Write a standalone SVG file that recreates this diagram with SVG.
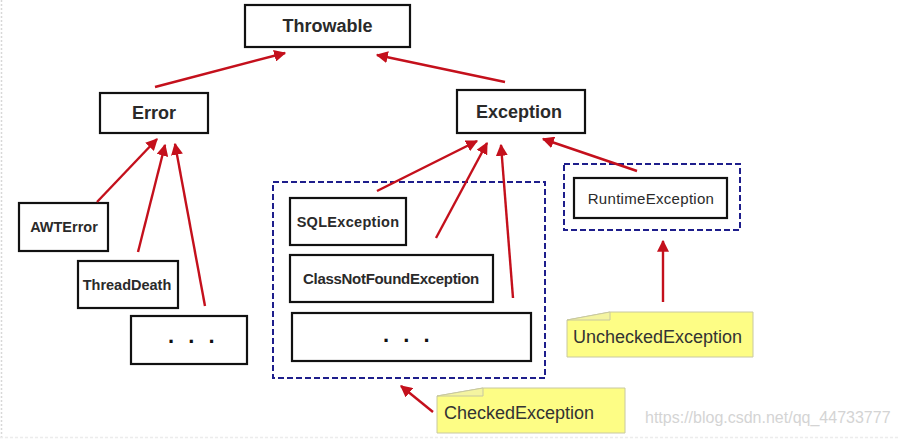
<svg xmlns="http://www.w3.org/2000/svg" width="898" height="442" viewBox="0 0 898 442">
<defs>
<marker id="ah" viewBox="0 0 10 10" refX="9" refY="5" markerWidth="5" markerHeight="5" orient="auto" markerUnits="strokeWidth">
<path d="M0,0 L10,5 L0,10 Z" fill="#c4101c"/>
</marker>
<style>
.box{fill:#fff;stroke:#111;stroke-width:2.2}
.grp{fill:none;stroke:#1e1e8c;stroke-width:2;stroke-dasharray:6,3}
.t{font-family:"Liberation Sans",Arial,sans-serif;fill:#2a2a2a;text-anchor:middle}
.big{font-size:18px;font-weight:bold}
.mid{font-size:14.5px}
.dots{font-family:"Liberation Sans",Arial,sans-serif;font-size:22px;font-weight:bold;fill:#111;letter-spacing:4px}
.note{fill:#fdfd85;stroke:#c8c8a0;stroke-width:1}
.fold{fill:#f4f4a0;stroke:#c8c8a0;stroke-width:1}
.nt{font-family:"Liberation Sans",Arial,sans-serif;font-size:18px;fill:#333}
.arr{stroke:#c4101c;stroke-width:2.4;fill:none;marker-end:url(#ah)}
</style>
</defs>
<rect x="0" y="0" width="898" height="442" fill="#fff"/>
<line x1="1.5" y1="0" x2="1.5" y2="438" stroke="#d8d8d8" stroke-width="1.5" stroke-dasharray="2,2"/>
<line x1="0" y1="437.5" x2="898" y2="437.5" stroke="#ececec" stroke-width="1.5" stroke-dasharray="3,2"/>

<g id="checked-group"><rect class="grp" x="273" y="182" width="272" height="196"/></g>
<g id="unchecked-group"><rect class="grp" x="564" y="164" width="176" height="66"/></g>

<g id="throwable"><rect class="box" x="245" y="5" width="165" height="42"/><text class="t big" x="327.5" y="32">Throwable</text></g>
<g id="error"><rect class="box" x="100" y="93" width="108" height="40"/><text class="t big" x="154" y="119">Error</text></g>
<g id="exception"><rect class="box" x="457" y="90" width="128" height="43"/><text class="t big" x="519" y="118">Exception</text></g>
<g id="awterror"><rect class="box" x="19" y="203" width="89" height="48"/><text class="t mid" x="64" y="232" font-weight="bold">AWTError</text></g>
<g id="threaddeath"><rect class="box" x="78" y="261" width="100" height="47"/><text class="t mid" x="127" y="290" font-weight="bold" font-size="15">ThreadDeath</text></g>
<g id="error-more"><rect class="box" x="131" y="316" width="116" height="48"/><text class="dots" x="168" y="343">. . .</text></g>
<g id="sqlexception"><rect class="box" x="290" y="198" width="116" height="47"/><text class="t mid" x="348" y="227" font-weight="bold" letter-spacing="0.3">SQLException</text></g>
<g id="classnotfound"><rect class="box" x="290" y="255" width="203" height="47"/><text class="t" x="391" y="284" font-size="15" font-weight="bold" letter-spacing="-0.3">ClassNotFoundException</text></g>
<g id="exception-more"><rect class="box" x="292" y="313" width="239" height="48"/><text class="dots" x="383" y="342">. . .</text></g>
<g id="runtimeexception"><rect class="box" x="574" y="178" width="153" height="40"/><text class="t" x="651" y="204" font-size="15" letter-spacing="0.3">RuntimeException</text></g>

<g id="unchecked-note">
<path class="note" d="M567,320 L610,312 L753,312 L753,357 L567,357 Z"/>
<path class="fold" d="M567,320 L610,312 L610,320 Z"/>
<text class="nt" x="573" y="343">UncheckedException</text>
</g>
<g id="checked-note">
<path class="note" d="M437,396 L483,388 L625,388 L625,433 L437,433 Z"/>
<path class="fold" d="M437,396 L483,388 L483,396 Z"/>
<text class="nt" x="444" y="419">CheckedException</text>
</g>

<g id="connectors">
<line class="arr" x1="155" y1="87" x2="285" y2="53"/>
<line class="arr" x1="505" y1="82" x2="377" y2="55"/>
<line class="arr" x1="97" y1="202" x2="157" y2="139"/>
<line class="arr" x1="138" y1="252" x2="165" y2="145"/>
<line class="arr" x1="205" y1="306" x2="175" y2="144"/>
<line class="arr" x1="377" y1="191" x2="477" y2="141"/>
<line class="arr" x1="436" y1="238" x2="487" y2="143"/>
<line class="arr" x1="513" y1="298" x2="501" y2="145"/>
<line class="arr" x1="637" y1="171" x2="543" y2="139"/>
<line class="arr" x1="663" y1="302" x2="663" y2="241"/>
<line class="arr" x1="433" y1="412" x2="401" y2="386"/>
</g>

<text x="645" y="423" font-family="Liberation Sans,Arial,sans-serif" font-size="16" fill="#d4d4d4">https://blog.csdn.net/qq_44733777</text>
</svg>
